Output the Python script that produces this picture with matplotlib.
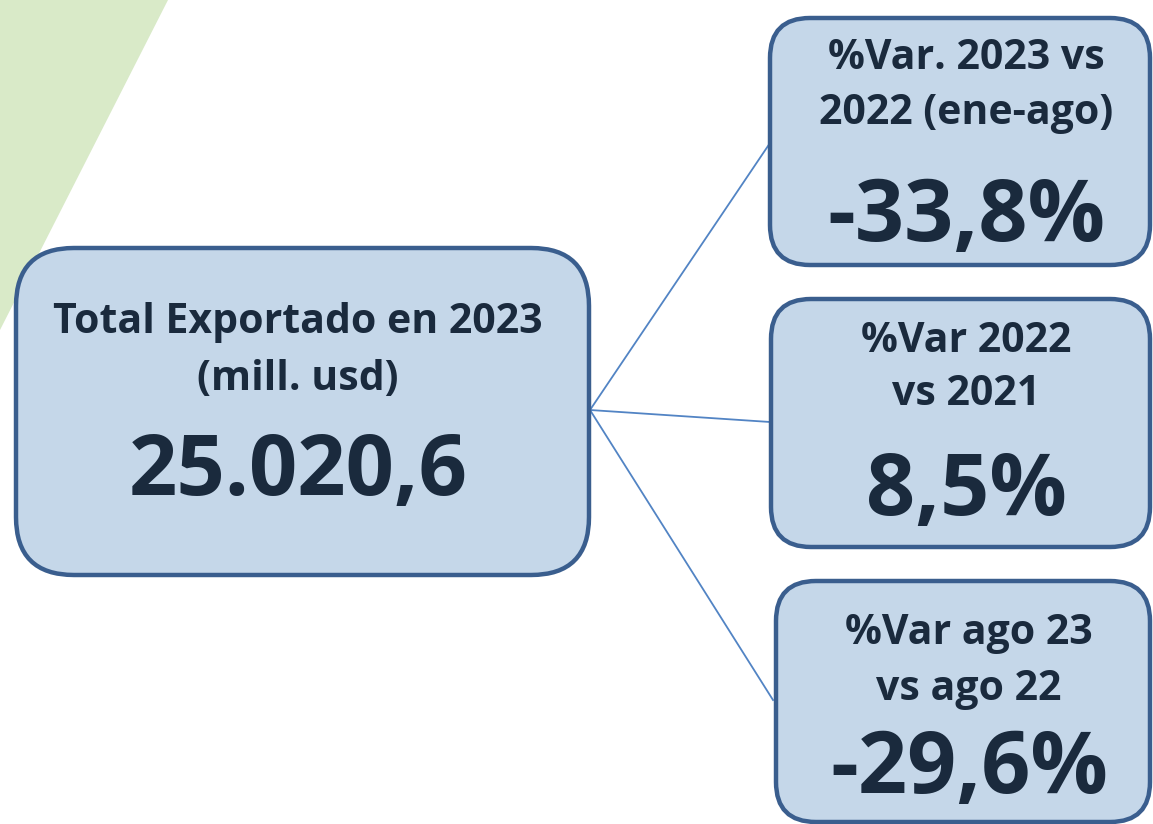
import matplotlib.pyplot as plt
from matplotlib.patches import FancyBboxPatch, Polygon

# texts shown on the boxes
main_title = ["Total Exportado en 2023", "(mill. usd)"]
main_value = "25.020,6"
side_titles = [["%Var. 2023 vs", "2022 (ene-ago)"],
               ["%Var 2022", "vs 2021"],
               ["%Var ago 23", "vs ago 22"]]
side_values = ["-33,8%", "8,5%", "-29,6%"]

fill = "#c5d7e9"
edge = "#3a5e8e"
txt = "#1a2a3d"
link = "#5284c4"
font = ["Open Sans", "DejaVu Sans"]

fig = plt.figure(figsize=(11.53, 8.24), dpi=100)
ax = fig.add_axes([0, 0, 1, 1])
ax.set_xlim(0, 1153)
ax.set_ylim(824, 0)
ax.axis("off")

# green decoration in the top-left corner
ax.add_patch(Polygon([(0, 0), (168, 0), (0, 330)], closed=True,
                     facecolor="#d9eac8", edgecolor="none", zorder=0))

# connector lines
start = (590, 410)
ends = [(770, 143), (770, 422), (773, 700)]
for e in ends:
    ax.plot([start[0], e[0]], [start[1], e[1]], color=link, lw=1.3, zorder=1)


def box(x0, y0, x1, y1, r):
    ax.add_patch(FancyBboxPatch((x0, y0), x1 - x0, y1 - y0,
                                boxstyle=f"round,pad=0,rounding_size={r}",
                                facecolor=fill, edgecolor=edge, lw=3.2, zorder=2))


# main box
box(16, 248, 589, 575, 58)
ax.text(298, 322, main_title[0], ha="center", va="center", fontsize=29.5,
        fontweight="bold", color=txt, family=font, zorder=3)
ax.text(298, 379, main_title[1], ha="center", va="center", fontsize=29.5,
        fontweight="bold", color=txt, family=font, zorder=3)
ax.text(298, 473, main_value, ha="center", va="center", fontsize=61,
        fontweight="bold", color=txt, family=font, zorder=3)

# side boxes
boxes = [(770, 18, 1150, 265), (771, 299, 1150, 547), (776, 581, 1150, 822)]
title_y = [(58, 113), (341, 394), (634, 689)]
value_y = [218, 493, 770]
for (x0, y0, x1, y1), titles, ty, val, vy in zip(boxes, side_titles, title_y,
                                                 side_values, value_y):
    box(x0, y0, x1, y1, 40)
    cx = (x0 + x1) / 2 + 6
    for t, yy in zip(titles, ty):
        ax.text(cx, yy, t, ha="center", va="center", fontsize=29.5,
                fontweight="bold", color=txt, family=font, zorder=3)
    ax.text(cx, vy, val, ha="center", va="center", fontsize=62,
            fontweight="bold", color=txt, family=font, zorder=3)

fig.savefig("out.png", dpi=100)
